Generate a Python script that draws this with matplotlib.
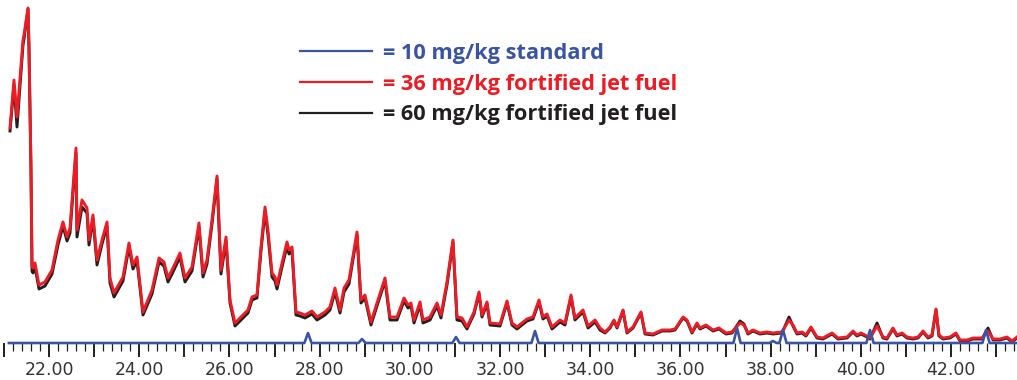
import matplotlib
matplotlib.use("Agg")
import matplotlib.pyplot as plt
from matplotlib.ticker import MultipleLocator, FuncFormatter

# retention time (min) for the jet fuel traces
rt = [21.135, 21.223, 21.290, 21.423, 21.445, 21.534, 21.556, 21.600, 21.623, 21.645,
      21.689, 21.778, 21.911, 22.066, 22.199, 22.310, 22.399, 22.465, 22.598, 22.620,
      22.731, 22.842, 22.886, 22.975, 23.064, 23.175, 23.286, 23.352, 23.441, 23.640,
      23.773, 23.862, 23.951, 24.084, 24.283, 24.439, 24.549, 24.638, 24.749, 24.904,
      25.015, 25.170, 25.325, 25.414, 25.503, 25.614, 25.725, 25.813, 25.924, 26.013,
      26.124, 26.412, 26.501, 26.611, 26.700, 26.789, 26.855, 26.944, 27.011, 27.055,
      27.166, 27.277, 27.321, 27.388, 27.476, 27.565, 27.676, 27.831, 27.942, 28.119,
      28.230, 28.341, 28.452, 28.541, 28.651, 28.829, 28.917, 29.006, 29.139, 29.272,
      29.450, 29.560, 29.716, 29.871, 29.960, 30.026, 30.093, 30.226, 30.292, 30.447,
      30.603, 30.691, 30.824, 30.957, 31.046, 31.157, 31.268, 31.423, 31.534, 31.600,
      31.711, 31.778, 32.000, 32.155, 32.266, 32.376, 32.598, 32.731, 32.864, 32.953,
      33.042, 33.153, 33.330, 33.441, 33.574, 33.662, 33.840, 33.951, 34.106, 34.217,
      34.328, 34.439, 34.527, 34.594, 34.727, 34.815, 34.949, 35.126, 35.215, 35.392,
      35.592, 35.769, 35.880, 36.057, 36.146, 36.257, 36.368, 36.434, 36.567, 36.722,
      36.855, 37.011, 37.144, 37.321, 37.410, 37.498, 37.609, 37.764, 37.920, 38.053,
      38.252, 38.408, 38.496, 38.585, 38.696, 38.784, 38.895, 39.028, 39.161, 39.361,
      39.494, 39.694, 39.827, 39.915, 40.004, 40.093, 40.204, 40.359, 40.492, 40.580,
      40.713, 40.802, 40.913, 41.024, 41.157, 41.268, 41.379, 41.490, 41.578, 41.667,
      41.733, 41.822, 41.977, 42.110, 42.199, 42.354, 42.487, 42.687, 42.820, 42.931,
      43.086, 43.241, 43.352, 43.463]

fuel_36 = [215, 263, 226, 303, 308, 335, 296, 176, 76, 75,
           80, 58, 61, 73, 103, 121, 106, 115, 195, 113,
           143, 135, 103, 128, 83, 103, 121, 65, 50, 66,
           100, 78, 86, 31, 53, 85, 81, 65, 75, 90,
           65, 76, 120, 70, 83, 123, 167, 73, 106, 43,
           20, 33, 46, 48, 96, 136, 113, 70, 66, 58,
           80, 101, 93, 96, 31, 30, 28, 32, 26, 31,
           36, 55, 33, 55, 63, 111, 43, 48, 21, 40,
           65, 26, 26, 45, 38, 40, 23, 41, 23, 26,
           40, 28, 61, 103, 26, 25, 16, 31, 51, 28,
           41, 20, 19, 42, 20, 16, 24, 26, 43, 26,
           29, 16, 23, 20, 48, 25, 33, 17, 23, 15,
           11, 16, 23, 16, 33, 11, 16, 31, 10, 9,
           13, 13, 14, 26, 23, 11, 20, 15, 18, 13,
           15, 10, 11, 20, 18, 10, 13, 10, 11, 10,
           11, 23, 18, 10, 11, 8, 16, 6, 5, 10,
           5, 6, 12, 8, 10, 8, 5, 17, 6, 5,
           15, 8, 10, 6, 5, 6, 12, 6, 8, 34,
           8, 5, 6, 10, 3, 3, 5, 5, 12, 4,
           4, 6, 2, 6]

fuel_60 = [212, 258, 216, 298, 304, 334, 294, 172, 72, 70,
           76, 54, 57, 69, 98, 117, 102, 110, 190, 106,
           136, 130, 98, 124, 78, 99, 117, 60, 46, 62,
           96, 74, 82, 28, 49, 81, 77, 61, 71, 86,
           61, 72, 116, 66, 79, 119, 164, 69, 102, 40,
           17, 30, 43, 45, 92, 132, 108, 66, 62, 54,
           76, 97, 89, 92, 28, 27, 25, 29, 23, 28,
           33, 51, 30, 51, 59, 108, 40, 45, 18, 37,
           62, 23, 23, 42, 35, 37, 20, 38, 20, 23,
           37, 25, 58, 101, 23, 22, 14, 29, 49, 26,
           39, 18, 17, 40, 18, 14, 22, 24, 41, 24,
           27, 14, 21, 18, 46, 23, 31, 15, 21, 13,
           10, 15, 22, 15, 32, 10, 15, 30, 9, 8,
           12, 12, 13, 25, 22, 10, 19, 14, 17, 12,
           14, 9, 10, 22, 19, 9, 12, 9, 10, 9,
           10, 26, 17, 9, 10, 7, 15, 5, 4, 9,
           4, 5, 11, 7, 9, 7, 4, 20, 5, 4,
           14, 7, 9, 5, 4, 5, 11, 5, 7, 33,
           7, 4, 5, 9, 2, 2, 4, 4, 15, 3,
           3, 5, 1, 5]

# 10 mg/kg standard: flat baseline with narrow peaks
std_start, std_end = 21.11, 43.463
std_peak_rt = [27.742, 28.940, 31.024, 32.776, 37.255, 38.053, 38.274, 40.204, 42.776]
std_peak_h = [10, 4, 6, 12, 15, 2, 13, 13, 13]

labels = ["= 10 mg/kg standard",
          "= 36 mg/kg fortified jet fuel",
          "= 60 mg/kg fortified jet fuel"]

BLUE = "#3a54a4"
RED = "#ed1c24"
BLACK = "#231f20"

# build standard trace from peak list
half_w = 0.08
std_x = [std_start]
std_y = [0]
for t, h in zip(std_peak_rt, std_peak_h):
    std_x += [t - half_w, t, t + half_w]
    std_y += [0, h, 0]
std_x.append(std_end)
std_y.append(0)

fig = plt.figure(figsize=(10.17, 3.80), dpi=100)
ax = fig.add_axes([0, 37 / 380, 1, 343 / 380])

l60, = ax.plot(rt, fuel_60, color=BLACK, lw=2.1, label=labels[2], zorder=2,
               solid_joinstyle="round")
l36, = ax.plot(rt, fuel_36, color=RED, lw=2.1, label=labels[1], zorder=3,
               solid_joinstyle="round")
l10, = ax.plot(std_x, std_y, color=BLUE, lw=1.9, label=labels[0], zorder=4,
               solid_joinstyle="round", clip_on=False)

ax.set_xlim(20.913, 43.463)
ax.set_ylim(0, 343)
for s in ax.spines.values():
    s.set_visible(False)
ax.set_yticks([])

ax.xaxis.set_major_locator(MultipleLocator(1))
ax.xaxis.set_minor_locator(MultipleLocator(0.2))
ax.xaxis.set_major_formatter(
    FuncFormatter(lambda v, p: f"{v:.2f}" if round(v) % 2 == 0 else ""))
ax.tick_params(axis="x", which="major", length=10, width=1.4, color=BLACK,
               pad=3, labelsize=12.5, labelcolor="#333333")
ax.tick_params(axis="x", which="minor", length=6, width=0.9, color=BLACK)
for lab in ax.get_xticklabels():
    lab.set_family(["Liberation Sans Narrow", "DejaVu Sans"])

leg = ax.legend(handles=[l10, l36, l60], loc="upper left",
                bbox_to_anchor=(300 / 1017, 1 - 43 / 380),
                bbox_transform=fig.transFigure, frameon=False,
                prop={"family": ["Open Sans", "DejaVu Sans"], "weight": "bold", "size": 15.7},
                handlelength=3.3, handletextpad=0.5, labelspacing=0.44,
                borderpad=0, borderaxespad=0, labelcolor="linecolor")
for h in leg.legend_handles:
    h.set_linewidth(1.6)

fig.savefig("out.png", dpi=100)
